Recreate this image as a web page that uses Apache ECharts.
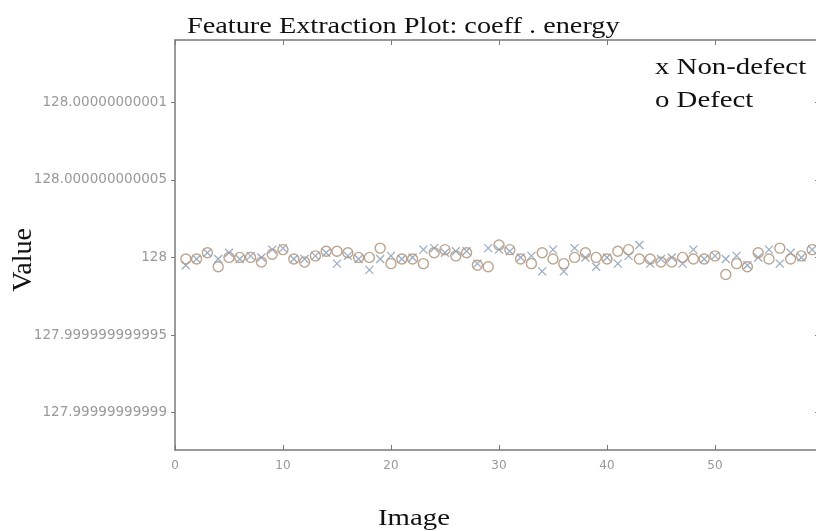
<!DOCTYPE html>
<html>
<head>
<meta charset="utf-8">
<script src="https://cdn.jsdelivr.net/npm/echarts@6/dist/echarts.min.js"></script>
<style>
html,body{margin:0;padding:0;background:#fff;}
#chart{width:816px;height:531px;}
</style>
</head>
<body>
<div id="chart"></div>
<script>
// Image index (x)
const images = [1,2,3,4,5,6,7,8,9,10,11,12,13,14,15,16,17,18,19,20,21,22,23,24,25,26,27,28,29,30,
  31,32,33,34,35,36,37,38,39,40,41,42,43,44,45,46,47,48,49,50,51,52,53,54,55,56,57,58,59,60];
// Deviation of the value from 128, in units of 1e-12
const nonDefectDev = [-0.5,-0.1,0.3,-0.1,0.3,-0.1,0.1,0,0.5,0.6,-0.1,-0.1,0.1,0.3,-0.4,0.1,-0.1,-0.8,-0.1,0.1,
  -0.1,0,0.5,0.6,0.3,0.4,0.4,-0.4,0.6,0.5,0.4,0,0.1,-0.9,0.5,-0.9,0.6,0,-0.6,0,
  -0.4,0.1,0.8,-0.4,-0.1,0,-0.4,0.5,-0.1,0.1,-0.1,0.1,-0.5,0,0.5,-0.4,0.3,0,0.5,-0.8];
const defectDev = [-0.1,-0.1,0.3,-0.6,0,0,0,-0.3,0.2,0.5,-0.1,-0.3,0.1,0.4,0.4,0.3,0,0,0.6,-0.4,
  -0.1,-0.1,-0.4,0.3,0.5,0.1,0.3,-0.5,-0.6,0.8,0.5,-0.1,-0.4,0.3,-0.1,-0.4,0,0.3,0,-0.1,
  0.4,0.5,-0.1,-0.1,-0.3,-0.3,0,-0.1,-0.1,0.1,-1.1,-0.4,-0.6,0.3,-0.1,0.6,-0.1,0.1,0.5,0.3];
// Y tick positions (same units) and their labels
const yTickValues = [-10,-5,0,5,10];
const yTickLabels = ['127.99999999999','127.999999999995','128','128.000000000005','128.00000000001'];
const xTickLabels = ['0','10','20','30','40','50','60'];

const pair = (ys) => images.map((x,i)=>[x, ys[i]]);
const serif = '"Liberation Serif","DejaVu Serif",serif';
const sans = '"DejaVu Sans", sans-serif';
const axisGrey = '#7a7a7a';
const labelGrey = '#999999';

const chart = echarts.init(document.getElementById('chart'), null, {renderer:'canvas'});
chart.setOption({
  animation:false,
  backgroundColor:'#fff',
  grid:{left:175, top:40, right:-7, bottom:81, containLabel:false, outerBoundsMode:'none'},
  xAxis:[{
    type:'value', min:0, max:60, interval:10,
    axisLine:{show:true, onZero:false, lineStyle:{color:axisGrey, width:1.5}},
    axisTick:{show:true, inside:true, length:5, lineStyle:{color:axisGrey}},
    axisLabel:{color:labelGrey, fontSize:12, margin:10, fontFamily:sans, showMaxLabel:true, hideOverlap:false,
      formatter:(v)=>xTickLabels[Math.round(v/10)] ?? ''},
    splitLine:{show:false}
  },{
    type:'value', position:'top', min:0, max:60, interval:10,
    axisLine:{show:true, onZero:false, lineStyle:{color:axisGrey, width:1.5}},
    axisTick:{show:true, inside:true, length:5, lineStyle:{color:axisGrey}},
    axisLabel:{show:false}, splitLine:{show:false}
  }],
  yAxis:[{
    type:'value', min:-12.4, max:14.0,
    axisLine:{show:true, onZero:false, lineStyle:{color:axisGrey, width:1.5}},
    axisTick:{show:true, inside:false, length:4, customValues:yTickValues, lineStyle:{color:axisGrey}},
    axisLabel:{color:labelGrey, fontSize:13.5, margin:8, customValues:yTickValues, fontFamily:sans,
      formatter:(v)=>{const i=yTickValues.findIndex(t=>Math.abs(t-v)<1e-6); return i>=0?yTickLabels[i]:'';}},
    splitLine:{show:false}
  },{
    type:'value', position:'right', min:-12.4, max:14.0,
    axisLine:{show:true, onZero:false, lineStyle:{color:axisGrey, width:1.5}},
    axisTick:{show:true, inside:true, length:8, customValues:yTickValues, lineStyle:{color:axisGrey}},
    axisLabel:{show:false}, splitLine:{show:false}
  }],
  graphic:[
    {type:'text', left:187, top:15, scaleX:1.23,
      style:{text:'Feature Extraction Plot: coeff . energy', fontFamily:serif, fontSize:23, fill:'#111'}},
    {type:'text', left:655, top:56, style:{text:'x Non-defect', fontFamily:serif, fontSize:24, fill:'#111'}, scaleX:1.2},
    {type:'text', left:655, top:89, style:{text:'o Defect', fontFamily:serif, fontSize:24, fill:'#111'}, scaleX:1.2},
    {type:'text', left:378, top:507, scaleX:1.2, style:{text:'Image', fontFamily:serif, fontSize:24, fill:'#111'}},
    {type:'text', left:10, top:228, rotation:Math.PI/2,
      style:{text:'Value', fontFamily:serif, fontSize:28, fill:'#111'}}
  ],
  series:[{
    name:'Non-defect', type:'scatter', data:pair(nonDefectDev),
    symbol:'path://M0,0L10,10M10,0L0,10', symbolSize:8,
    itemStyle:{color:'transparent', borderColor:'#8ea4bd', borderWidth:1.3, opacity:0.9}
  },{
    name:'Defect', type:'scatter', data:pair(defectDev),
    symbol:'circle', symbolSize:10,
    itemStyle:{color:'transparent', borderColor:'#b59a82', borderWidth:1.4, opacity:0.9}
  }]
});
</script>
</body>
</html>
